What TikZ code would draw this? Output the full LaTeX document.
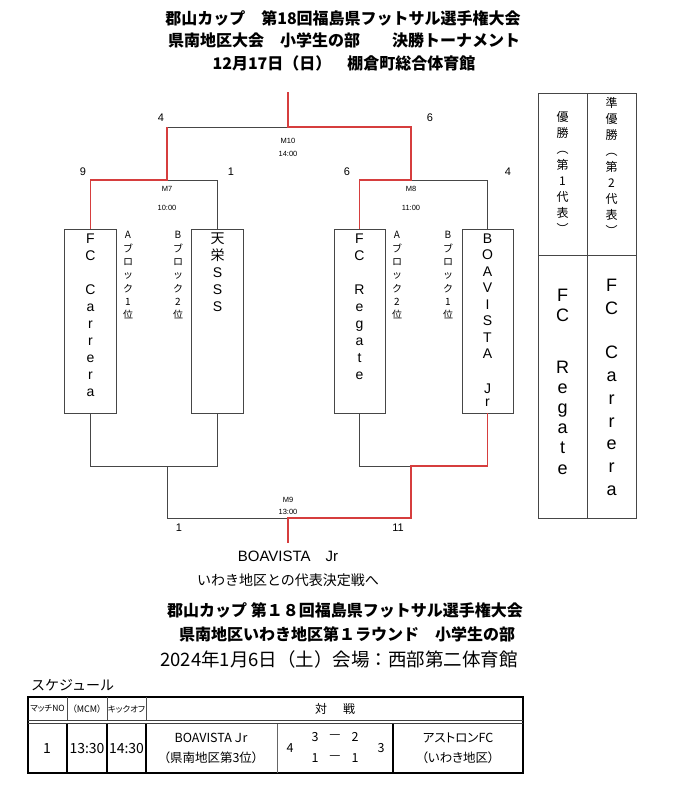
\documentclass[tikz,border=0pt]{standalone}
\usepackage{fontspec}
\setmainfont{Liberation Sans}
\newfontfamily\jp{Noto Sans CJK JP}
\newfontfamily\jpp{Noto Sans CJK JP}[RawFeature=+palt]
\newcommand\mystrut[1]{\rule{0pt}{#1}}
\definecolor{myred}{RGB}{214,62,62}
\definecolor{lin}{RGB}{70,70,70}
\begin{document}
\begin{tikzpicture}[x=1pt,y=-1pt,
  blk/.style={draw=lin, line width=0.9pt},
  redl/.style={draw=myred, line width=1.9pt},
  tbox/.style={draw=lin, line width=0.9pt, minimum width=52pt, minimum height=184pt, inner sep=0pt},
  teamtxt/.style={font=\fontsize{14}{17}\selectfont, align=center, inner sep=0pt, anchor=north},
  blocktxt/.style={font=\jp\fontsize{10}{13.3}\selectfont, align=center, inner sep=0pt, anchor=north},
  score/.style={font=\fontsize{11}{13}\selectfont, inner sep=0pt},
  mlab/.style={font=\fontsize{7.5}{9}\selectfont, inner sep=0pt},
  ttl/.style={font=\jp\bfseries\fontsize{16}{18}\selectfont, inner sep=0pt},
  wtxt/.style={font=\jp\fontsize{12}{16}\selectfont, align=center, inner sep=0pt, anchor=north},
  wname/.style={font=\fontsize{18}{20}\selectfont, align=center, inner sep=0pt, anchor=north},
  tb/.style={font=\jpp\fontsize{12.5}{15}\selectfont, inner sep=0pt},
  th/.style={font=\jpp\fontsize{8.5}{10}\selectfont, inner sep=0pt},
  ]
\useasboundingbox (0,0) rectangle (700,792);
\fill[white] (0,0) rectangle (700,792);

% ---------- titles ----------
\node[ttl] (t1) at (343,18) {郡山カップ　第18回福島県フットサル選手権大会};
\node[ttl] (t2) at (344,40) {県南地区大会　小学生の部　　決勝トーナメント};
\node[ttl] (t3) at (344,63) {12月17日（日）　棚倉町総合体育館};

% ---------- team boxes ----------
\node[tbox] (cA) at (90.5,321) {};
\node[tbox] (tB) at (217.5,321) {};
\node[tbox, minimum width=51pt] (rA) at (359.5,321) {};
\node[tbox, minimum width=51pt] (bB) at (487.5,321) {};

\node[teamtxt] (ncA) at (90.5,231) {\mystrut{12pt}F\\C\\[17pt]C\\a\\r\\r\\e\\r\\a};
\node[teamtxt] (ntB) at (217.5,231) {\mystrut{12pt}\jp 天\\\jp 栄\\S\\S\\S};
\node[teamtxt] (nrA) at (359.5,231) {\mystrut{12pt}F\\C\\[17pt]R\\e\\g\\a\\t\\e};
\node[teamtxt, font=\fontsize{14}{16.5}\selectfont] (nbB) at (487.5,231) {\mystrut{12pt}B\\O\\A\\V\\I\\S\\T\\A\\[18pt]J\\[-3pt]r};

\node[blocktxt] (lA1) at (128,228.7) {\mystrut{10pt}A\\ブ\\ロ\\ッ\\ク\\1\\位};
\node[blocktxt] (lB2) at (178,228.7) {\mystrut{10pt}B\\ブ\\ロ\\ッ\\ク\\2\\位};
\node[blocktxt] (lA2) at (397,228.7) {\mystrut{10pt}A\\ブ\\ロ\\ッ\\ク\\2\\位};
\node[blocktxt] (lB1) at (448,228.7) {\mystrut{10pt}B\\ブ\\ロ\\ッ\\ク\\1\\位};

% ---------- bracket coordinates ----------
\coordinate (top) at (288,92);
\coordinate (m10c) at (288,127);
\coordinate (m10l) at (167,127);
\coordinate (m10r) at (411,127);
\coordinate (m7c) at (167,180);
\coordinate (m7l) at (90.5,180);
\coordinate (m7r) at (217.5,180);
\coordinate (m8c) at (411,180);
\coordinate (m8l) at (359.5,180);
\coordinate (m8r) at (487.5,180);
\coordinate (j1l) at (90.5,466);
\coordinate (j1r) at (217.5,466);
\coordinate (j1c) at (167,466);
\coordinate (j2l) at (359.5,466);
\coordinate (j2r) at (487.5,466);
\coordinate (j2c) at (411,466);
\coordinate (m9l) at (167,518);
\coordinate (m9r) at (411,518);
\coordinate (m9c) at (288,518);
\coordinate (m9b) at (288,543);

% black lines
\draw[blk] (m10c) -- (m10l);
\draw[blk] (m7c) -- (m7r) -- (tB.north);
\draw[blk] (m8c) -- (m8r) -- (bB.north);
\draw[blk] (cA.south) -- (j1l) -- (j1r) -- (tB.south);
\draw[blk] (j1c) -- (m9l) -- (m9c);
\draw[blk] (rA.south) -- (j2l) -- (j2c);
% red lines
\draw[redl] (m10l) -- (m7c) -- (m7l) -- (cA.north);
\draw[redl] (top) -- (m10c) -- (m10r) -- (m8c) -- (m8l) -- (rA.north);
\draw[redl] (bB.south) -- (j2r) -- (j2c) -- (m9r) -- (m9c) -- (m9b);

% scores and match labels
\node[score] (s10l) at (161,118) {4};
\node[score] (s10r) at (430,118) {6};
\node[score] (s7l) at (83,172) {9};
\node[score] (s7r) at (231,172) {1};
\node[score] (s8l) at (347,172) {6};
\node[score] (s8r) at (508,172) {4};
\node[score] (s9l) at (179,528) {1};
\node[score] (s9r) at (398,528) {11};
\node[mlab] (lm10) at (288,141) {M10};
\node[mlab] (tm10) at (288,154) {14:00};
\node[mlab] (lm7) at (167,189) {M7};
\node[mlab] (tm7) at (167,208) {10:00};
\node[mlab] (lm8) at (411,189) {M8};
\node[mlab] (tm8) at (411,208) {11:00};
\node[mlab] (lm9) at (288,500) {M9};
\node[mlab] (tm9) at (288,512) {13:00};

\node[font=\fontsize{15}{17}\selectfont, inner sep=0pt] (champ) at (288,556) {BOAVISTA{\jp　}Jr};
\node[font=\jp\fontsize{14}{16}\selectfont, inner sep=0pt] (nextg) at (288,580) {いわき地区との代表決定戦へ};

% ---------- winners table ----------
\draw[blk] (538,93) rectangle (636,518);
\draw[blk] (587,93) -- (587,518);
\draw[blk] (538,255) -- (636,255);
\node[wtxt] (w1h) at (562.5,110.6) {\mystrut{11pt}優\\勝\\︵\\第\\1\\代\\表\\︶};
\node[wtxt] (w2h) at (611.5,96.6) {\mystrut{11pt}準\\優\\勝\\︵\\第\\2\\代\\表\\︶};
\node[wname, font=\fontsize{18}{20.2}\selectfont] (w1n) at (562.5,287.4) {\mystrut{14pt}F\\C\\[31pt]R\\e\\g\\a\\t\\e};
\node[wname, font=\fontsize{18}{22.8}\selectfont] (w2n) at (611.5,277.4) {\mystrut{14pt}F\\C\\[21.4pt]C\\a\\r\\r\\e\\r\\a};

% ---------- second block ----------
\node[ttl] (u1) at (345,610) {郡山カップ 第１８回福島県フットサル選手権大会};
\node[ttl] (u2) at (347,634) {県南地区いわき地区第１ラウンド　小学生の部};
\node[font=\jp\fontsize{18.5}{20}\selectfont, inner sep=0pt] (u3) at (339,659) {2024年1月6日（土）会場：西部第二体育館};
\node[font=\jp\fontsize{14}{16}\selectfont, inner sep=0pt, anchor=west] (sched) at (31,685) {スケジュール};

% schedule table
\draw[draw=black, line width=1.6pt] (28,697) rectangle (523,773);
\draw[draw=black!75, line width=1pt] (28,720.4) -- (523,720.4);
\draw[draw=black!75, line width=1pt] (28,723.2) -- (523,723.2);
\foreach \xx in {67,107,146}{
  \draw[draw=black!70, line width=0.8pt] (\xx,697) -- (\xx,720);
  \draw[draw=black, line width=1.5pt] (\xx,723.5) -- (\xx,773);
}
\draw[draw=black!60, line width=0.8pt] (277,723.5) -- (277,773);
\draw[draw=black, line width=1.4pt] (393,723.5) -- (393,773);

\node[th] (h1) at (47.5,709) {マッチNO};
\node[th, font=\jpp\fontsize{9}{10}\selectfont] (h2) at (87,709) {（MCM）};
\node[th] (h3) at (126.5,709) {キックオフ};
\node[th, font=\jp\fontsize{12}{14}\selectfont] (h4) at (335,709) {対\hspace{16pt}戦};

\node[tb, font=\jpp\fontsize{14}{16}\selectfont] (d1) at (47,748) {1};
\node[tb, font=\jpp\fontsize{14}{16}\selectfont] (d2) at (87,748) {13:30};
\node[tb, font=\jpp\fontsize{14}{16}\selectfont] (d3) at (126.5,748) {14:30};
\node[tb] (d4a) at (211,738) {BOAVISTA Ｊr};
\node[tb] (d4b) at (211,758) {（県南地区第3位）};
\node[tb] (sL) at (290,748) {4};
\node[tb] (sR) at (381,748) {3};
\node[tb] (a1) at (315,737) {3};
\node[tb] (a2) at (335,737) {—};
\node[tb] (a3) at (355,737) {2};
\node[tb] (b1) at (315,758) {1};
\node[tb] (b2) at (335,758) {—};
\node[tb] (b3) at (355,758) {1};
\node[tb] (d6a) at (458,738) {アストロンFC};
\node[tb] (d6b) at (458,758) {（いわき地区）};
\end{tikzpicture}
\end{document}
